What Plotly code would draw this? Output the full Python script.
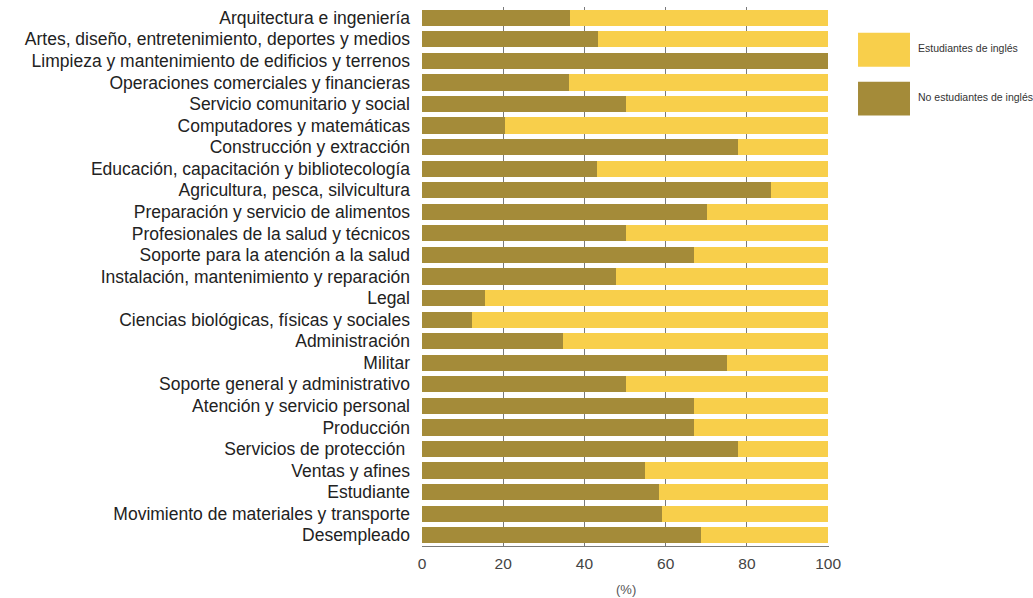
import plotly.graph_objects as go

categories = [
    "Arquitectura e ingeniería",
    "Artes, diseño, entretenimiento, deportes y medios",
    "Limpieza y mantenimiento de edificios y terrenos",
    "Operaciones comerciales y financieras",
    "Servicio comunitario y social",
    "Computadores y matemáticas",
    "Construcción y extracción",
    "Educación, capacitación y bibliotecología",
    "Agricultura, pesca, silvicultura",
    "Preparación y servicio de alimentos",
    "Profesionales de la salud y técnicos",
    "Soporte para la atención a la salud",
    "Instalación, mantenimiento y reparación",
    "Legal",
    "Ciencias biológicas, físicas y sociales",
    "Administración",
    "Militar",
    "Soporte general y administrativo",
    "Atención y servicio personal",
    "Producción",
    "Servicios de protección ",
    "Ventas y afines",
    "Estudiante",
    "Movimiento de materiales y transporte",
    "Desempleado",
]

no_estudiantes = [36.4, 43.3, 100.0, 36.1, 50.3, 20.5, 77.9, 43.1, 86.0, 70.2,
                  50.3, 66.9, 47.8, 15.5, 12.4, 34.8, 75.2, 50.3, 66.9, 66.9,
                  77.9, 54.9, 58.3, 59.1, 68.8]
estudiantes = [63.6, 56.7, 0.0, 63.9, 49.7, 79.5, 22.1, 56.9, 14.0, 29.8,
               49.7, 33.1, 52.2, 84.5, 87.6, 65.2, 24.8, 49.7, 33.1, 33.1,
               22.1, 45.1, 41.7, 40.9, 31.2]

x_ticks = [0, 20, 40, 60, 80, 100]
x_title = "(%)"
legend_labels = ["Estudiantes de inglés", "No estudiantes de inglés"]

OLIVE = "#A48B39"
YELLOW = "#F8CF4B"

fig = go.Figure()
fig.add_trace(go.Bar(y=categories, x=no_estudiantes, orientation="h",
                     marker=dict(color=OLIVE, line=dict(width=0)),
                     name=legend_labels[1], showlegend=False))
fig.add_trace(go.Bar(y=categories, x=estudiantes, orientation="h",
                     marker=dict(color=YELLOW, line=dict(width=0)),
                     name=legend_labels[0], showlegend=False))

# Legend drawn as swatches + labels
sw = [(0.9524, 0.8893, YELLOW, 0.9240, legend_labels[0]),
      (0.8615, 0.7985, OLIVE, 0.8332, legend_labels[1])]
for top, bot, col, ty, lab in sw:
    fig.add_shape(type="rect", xref="paper", yref="paper",
                  x0=1.0713, x1=1.199, y0=bot, y1=top,
                  fillcolor=col, line=dict(width=0))
    fig.add_annotation(xref="paper", yref="paper", x=1.213, y=ty,
                       text=lab, showarrow=False, xanchor="left", yanchor="middle",
                       font=dict(family="Liberation Sans Narrow, Arial Narrow, Liberation Sans",
                                 size=10.5, color="#333333"))

# x-axis title
fig.add_annotation(xref="paper", yref="paper", x=0.5, y=-0.0806, text=x_title,
                   showarrow=False, xanchor="center", yanchor="middle",
                   font=dict(size=13, color="#555555"))

fig.update_layout(
    width=1033, height=598,
    barmode="stack", bargap=0.25,
    plot_bgcolor="white", paper_bgcolor="white",
    margin=dict(l=422, r=204, t=7, b=52),
    font=dict(family="Liberation Sans, Arial, sans-serif", color="#222222"),
    xaxis=dict(range=[0, 100.2], tickvals=x_ticks, ticktext=[str(v) for v in x_ticks],
               showgrid=True, gridcolor="#7a7a7a", gridwidth=1, zeroline=False,
               showline=True, linecolor="#7a7a7a", linewidth=1,
               ticks="", ticklabelstandoff=3, automargin=False,
               tickfont=dict(size=15.5, color="#444444")),
    yaxis=dict(autorange="reversed", showgrid=False, zeroline=False,
               ticks="", ticklabelstandoff=11, automargin=False,
               tickfont=dict(size=17.5, color="#222222")),
)

fig.write_html("out.html")
